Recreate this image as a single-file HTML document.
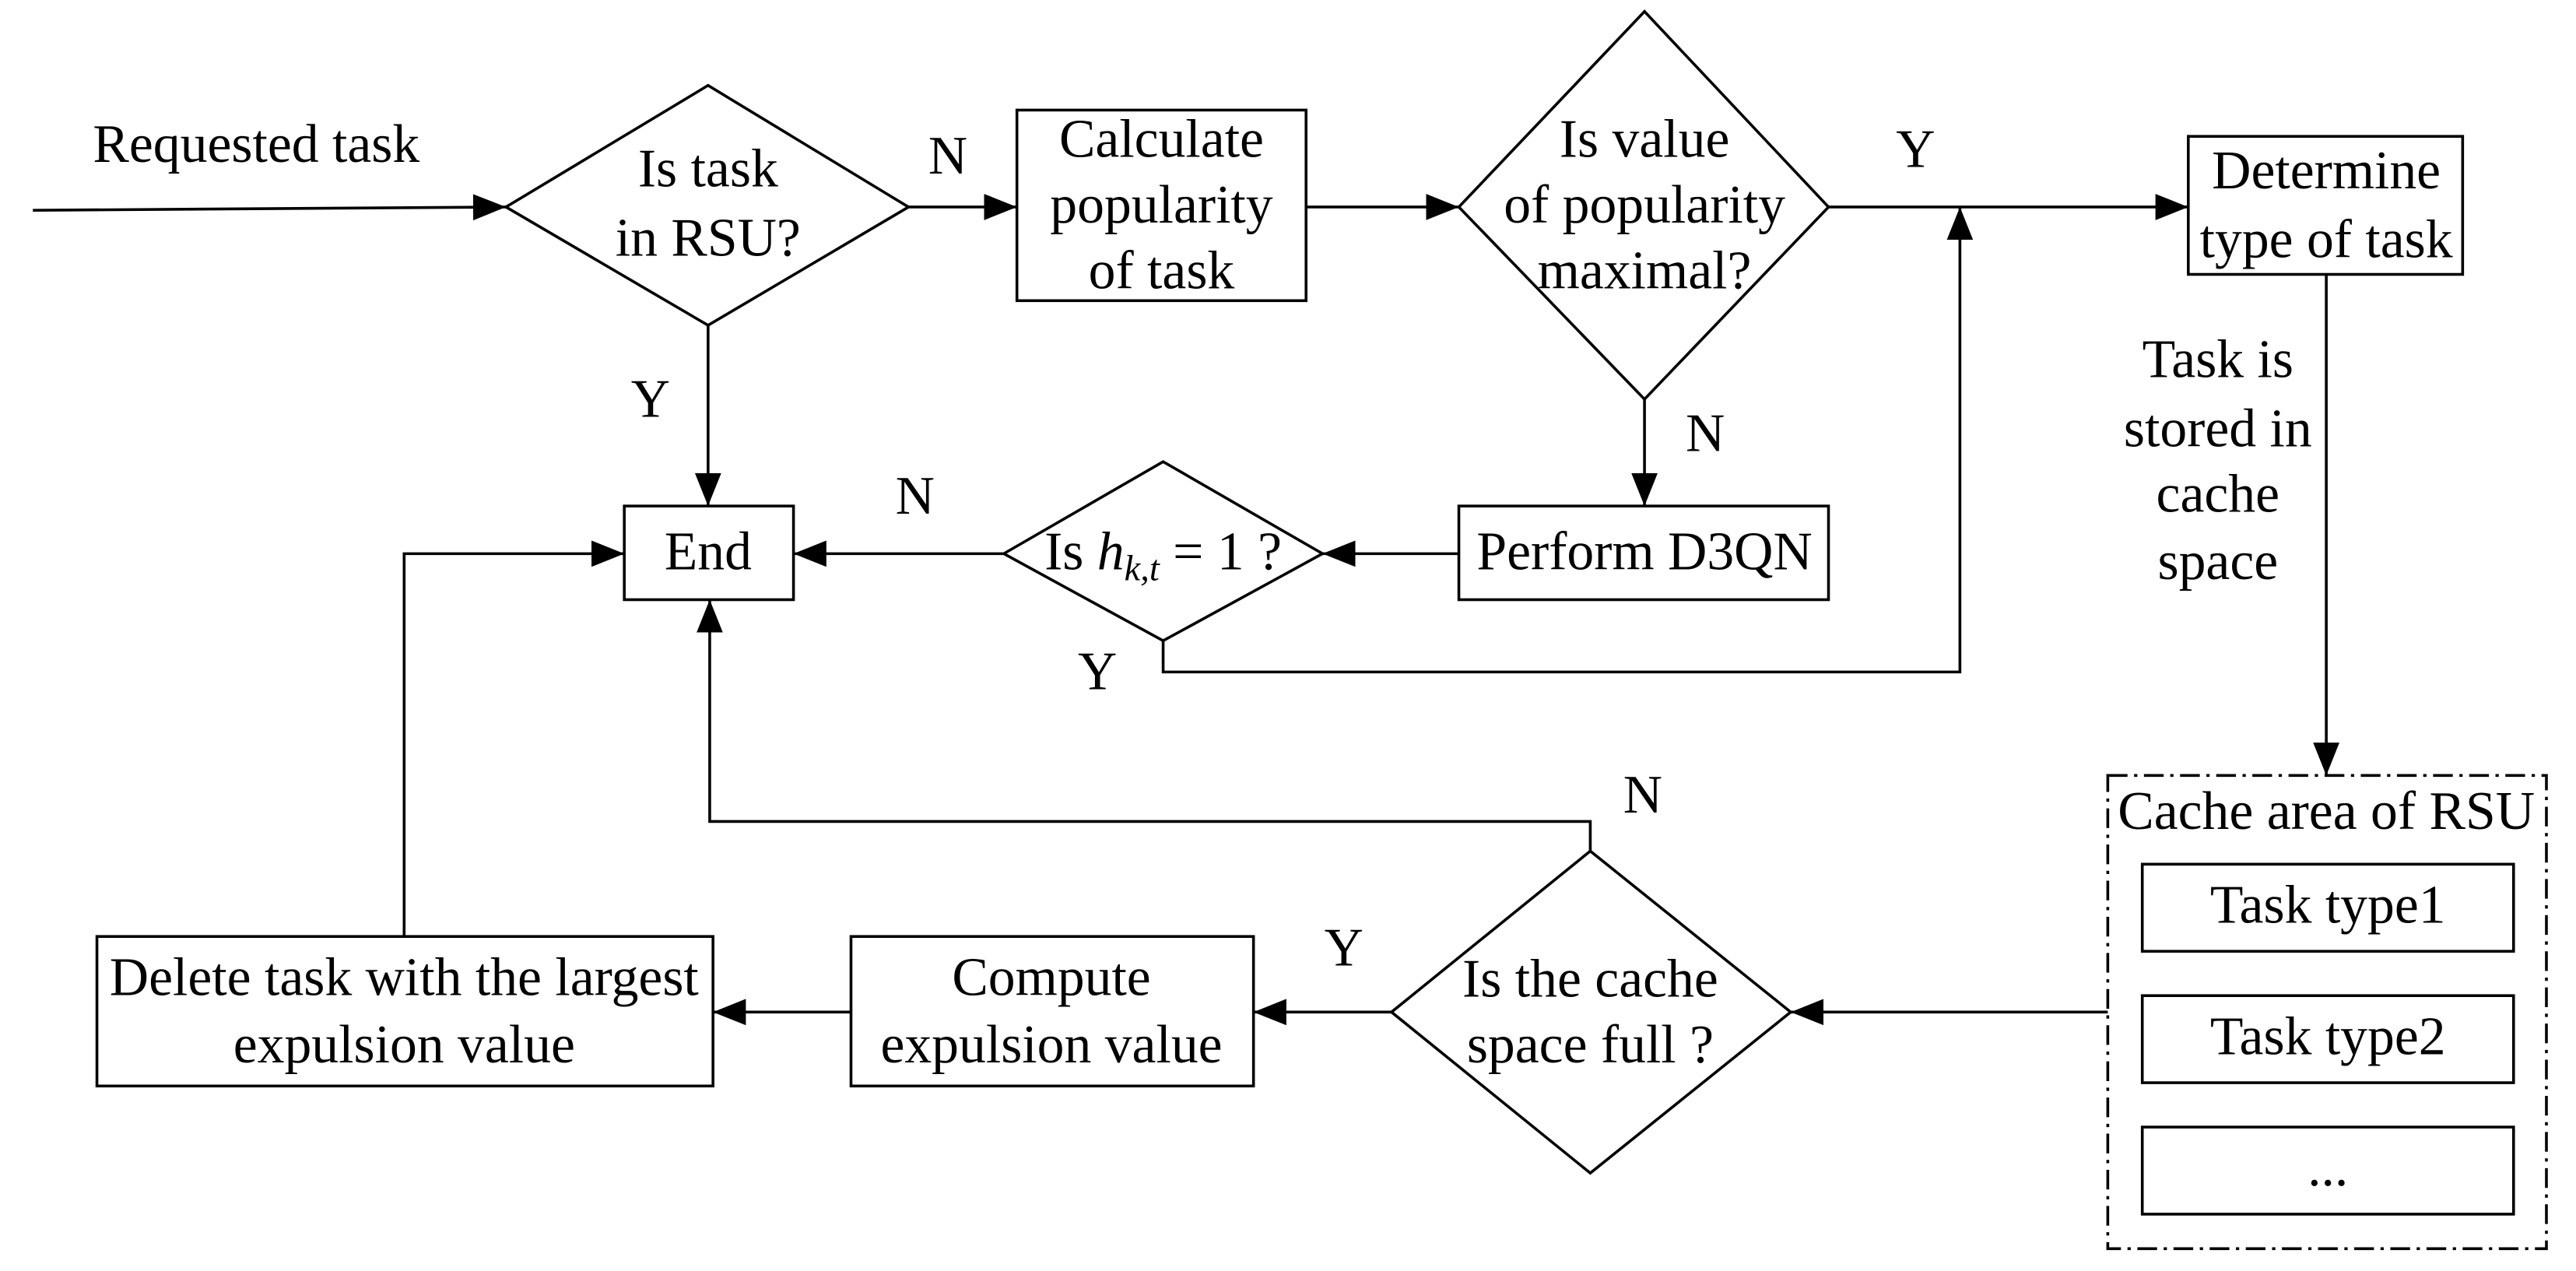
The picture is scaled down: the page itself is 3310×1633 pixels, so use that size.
<!DOCTYPE html>
<html><head><meta charset="utf-8"><style>
html,body{margin:0;padding:0;background:#fff;}
svg{display:block;}
text{font-family:"Liberation Serif",serif;font-size:33px;fill:#000;text-anchor:middle;dominant-baseline:middle;}
</style></head><body>
<svg width="3310" height="1633" viewBox="0 0 1568 773.6" preserveAspectRatio="none" xmlns="http://www.w3.org/2000/svg">
<defs>
<marker id="a" markerWidth="22" markerHeight="18" refX="20" refY="8" orient="auto" markerUnits="userSpaceOnUse">
<path d="M0,0 L20,8 L0,16 z" fill="#000"/>
</marker>
</defs>
<g fill="none" stroke="#000" stroke-width="1.7">
<polygon points="308,126 431,52 553,126 431,198" fill="#fff"/>
<rect x="619" y="67" width="176" height="116"/>
<polygon points="888,126 1001,7 1113,126 1001,243" fill="#fff"/>
<rect x="1332" y="83" width="167" height="84"/>
<rect x="380" y="308" width="103" height="57"/>
<polygon points="611,337 708,281 805,337 708,390"/>
<rect x="888" y="308" width="225" height="57"/>
<polygon points="847,616 968,518 1090,616 968,714"/>
<rect x="518" y="570" width="245" height="91"/>
<rect x="59" y="570" width="375" height="91"/>
<rect x="1283" y="472" width="267" height="288" stroke-dasharray="12,4,2,4"/>
<rect x="1304" y="526" width="226" height="53"/>
<rect x="1304" y="606" width="226" height="53"/>
<rect x="1304" y="686" width="226" height="53"/>
<path d="M20,128 L308,126" marker-end="url(#a)"/>
<path d="M553,126 L619,126" marker-end="url(#a)"/>
<path d="M795,126 L888,126" marker-end="url(#a)"/>
<path d="M1113,126 L1332,126" marker-end="url(#a)"/>
<path d="M1416,167 L1416,472" marker-end="url(#a)"/>
<path d="M431,198 L431,308" marker-end="url(#a)"/>
<path d="M1001,243 L1001,308" marker-end="url(#a)"/>
<path d="M888,337 L805,337" marker-end="url(#a)"/>
<path d="M611,337 L483,337" marker-end="url(#a)"/>
<path d="M708,390 L708,409 L1193,409 L1193,126" marker-end="url(#a)"/>
<path d="M1283,616 L1090,616" marker-end="url(#a)"/>
<path d="M847,616 L763,616" marker-end="url(#a)"/>
<path d="M518,616 L434,616" marker-end="url(#a)"/>
<path d="M968,518 L968,500 L432,500 L432,365" marker-end="url(#a)"/>
<path d="M246,570 L246,337 L380,337" marker-end="url(#a)"/>
</g>
<text x="156" y="91">Requested task</text>
<text x="431" y="106">Is task</text>
<text x="431" y="148">in RSU?</text>
<text x="577" y="98">N</text>
<text x="707" y="88">Calculate</text>
<text x="707" y="128">popularity</text>
<text x="707" y="168">of task</text>
<text x="1001" y="88">Is value</text>
<text x="1001" y="128">of popularity</text>
<text x="1001" y="168">maximal?</text>
<text x="1166" y="94">Y</text>
<text x="1416" y="107">Determine</text>
<text x="1416" y="149">type of task</text>
<text x="1350" y="222">Task is</text>
<text x="1350" y="264">stored in</text>
<text x="1350" y="304">cache</text>
<text x="1350" y="345">space</text>
<text x="396" y="246">Y</text>
<text x="1038" y="267">N</text>
<text x="557" y="305">N</text>
<text x="431" y="339">End</text>
<text x="708" y="339">Is <tspan font-style="italic">h</tspan><tspan font-style="italic" font-size="22" dy="9">k,t</tspan><tspan dy="-9"> = 1 ?</tspan></text>
<text x="1001" y="339">Perform D3QN</text>
<text x="668" y="412">Y</text>
<text x="1000" y="487">N</text>
<text x="1416" y="497">Cache area of RSU</text>
<text x="1417" y="554">Task type1</text>
<text x="1417" y="634">Task type2</text>
<text x="1417" y="714">...</text>
<text x="818" y="580">Y</text>
<text x="968" y="599">Is the cache</text>
<text x="968" y="639">space full ?</text>
<text x="640" y="598">Compute</text>
<text x="640" y="639">expulsion value</text>
<text x="246" y="598">Delete task with the largest</text>
<text x="246" y="639">expulsion value</text>
</svg>
</body></html>
